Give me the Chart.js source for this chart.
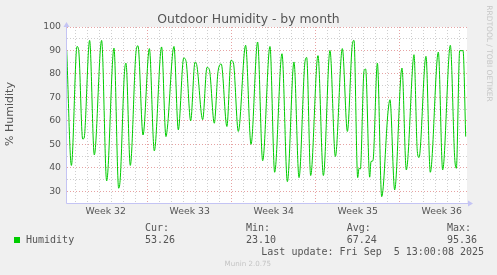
<!DOCTYPE html>
<html>
<head>
<meta charset="utf-8">
<script src="https://cdn.jsdelivr.net/npm/chart.js@4/dist/chart.umd.min.js"></script>
<style>
  html, body { margin: 0; padding: 0; background: #f0f0f0; }
  canvas { display: block; }
</style>
</head>
<body>
<canvas id="chart" width="497" height="275"></canvas>
<script>
  "use strict";

  // Days since Monday 00:00 of week 32
  const days = [
    0.25, 0.64, 1.11, 1.25, 1.58, 1.69, 2.16, 2.55, 3.16, 3.58,
    4.19, 4.58, 4.72, 5.05, 5.19, 5.55, 6.03, 6.19, 6.61, 7.14,
    7.55, 8.16, 8.52, 8.64, 9.19, 9.55, 10.0, 10.2, 10.58, 10.94,
    11.08, 11.58, 11.94, 12.14, 12.55, 12.86, 13.13, 13.6, 13.94, 14.14,
    14.55, 15.16, 15.61, 16.16, 16.58, 17.19, 17.58, 18.19, 18.64, 19.19,
    19.61, 20.11, 20.25, 20.58, 21.19, 21.64, 22.19, 22.64, 23.22, 23.64,
    24.05, 24.19, 24.5, 24.61, 24.72, 25.03, 25.16, 25.5, 25.61, 25.77,
    26.14, 26.5, 27.03, 27.19, 27.58, 28.19, 28.55, 29.11, 29.19, 29.47,
    29.61, 30.19, 30.55, 31.22, 31.58, 32.22, 32.58, 32.72, 33.0, 33.28,
    33.5
  ];
  const humidity = [
    90, 41, 91.7, 90, 52.3, 52.5, 94.3, 45.5, 94.3, 34.4,
    91, 31.3, 36, 79.7, 84.6, 41, 89.6, 92, 54, 90.8,
    47.2, 91.5, 53.3, 57, 91.7, 56.2, 86.8, 85.3, 60, 85,
    84, 60.5, 82.8, 81.8, 59, 81, 84.2, 57.6, 85.8, 84.8,
    55.5, 92.2, 50, 93.6, 43, 91.7, 38.1, 88.6, 34.1, 85.1,
    35.8, 85.3, 87, 36.7, 87.8, 36.7, 90, 44.8, 90.8, 55.5,
    92.5, 94.3, 35.8, 39.8, 39.5, 81.4, 82.1, 36, 42.7, 43,
    84.6, 27.7, 64, 69, 30.6, 82.5, 39.1, 85.3, 88.2, 46.9,
    44.4, 87.5, 38.1, 89.3, 39.1, 92.2, 44.4, 39.8, 89.9, 89.9,
    53.3
  ];

  const weekLabels = ["Week 32", "Week 33", "Week 34", "Week 35", "Week 36"];
  const weekMids = [3.5, 10.5, 17.5, 24.5, 31.5];
  const dayLines = [];
  for (let d = 1; d <= 33; d++) dayLines.push(d);
  const yLines = [25, 30, 35, 40, 45, 50, 55, 60, 65, 70, 75, 80, 85, 90, 95, 100];

  const statNames = ["Cur:", "Min:", "Avg:", "Max:"];
  const statValues = ["53.26", "23.10", "67.24", "95.36"];
  const statX = [145, 246, 346.7, 447];

  const GREEN = "#00cc00";
  const TXT = "#555555";
  const MGRID = "#e6a3a3";
  const GRID = "#cfcfcf";
  const AXIS = "#c4c4f4";

  const munin = {
    id: "munin",
    beforeDraw(chart) {
      const { ctx, chartArea: a } = chart;
      ctx.save();
      ctx.fillStyle = "#f0f0f0";
      ctx.fillRect(0, 0, chart.width, chart.height);
      ctx.fillStyle = "#ffffff";
      ctx.fillRect(a.left, a.top, a.right - a.left, a.bottom - a.top);
      ctx.restore();
    },
    afterDraw(chart) {
      const { ctx, chartArea: a } = chart;
      ctx.save();

      // axes with arrows
      ctx.strokeStyle = AXIS;
      ctx.fillStyle = AXIS;
      ctx.lineWidth = 1;
      ctx.beginPath();
      ctx.moveTo(a.left - 0.5, a.bottom + 0.5);
      ctx.lineTo(a.right + 2, a.bottom + 0.5);
      ctx.moveTo(a.left - 0.5, a.bottom + 0.5);
      ctx.lineTo(a.left - 0.5, a.top - 3);
      ctx.stroke();
      ctx.beginPath();
      ctx.moveTo(a.right + 1, a.bottom - 2.5);
      ctx.lineTo(a.right + 6, a.bottom + 0.5);
      ctx.lineTo(a.right + 1, a.bottom + 3.5);
      ctx.closePath();
      ctx.fill();
      ctx.beginPath();
      ctx.moveTo(a.left - 3.5, a.top);
      ctx.lineTo(a.left - 0.5, a.top - 5);
      ctx.lineTo(a.left + 2.5, a.top);
      ctx.closePath();
      ctx.fill();

      // title
      ctx.fillStyle = TXT;
      ctx.font = '12.4px "DejaVu Sans"';
      ctx.textAlign = "center";
      ctx.textBaseline = "alphabetic";
      ctx.fillText("Outdoor Humidity - by month", 248.5, 23);

      // vertical label
      ctx.save();
      ctx.translate(10.5, 114);
      ctx.rotate(-Math.PI / 2);
      ctx.font = '11px "DejaVu Sans"';
      ctx.textBaseline = "middle";
      ctx.fillText("% Humidity", 0, 0);
      ctx.restore();

      // rrdtool credit
      ctx.save();
      ctx.translate(488.5, 53.5);
      ctx.rotate(Math.PI / 2);
      ctx.fillStyle = "#c6c6c6";
      ctx.font = '7.5px "DejaVu Sans"';
      ctx.textBaseline = "middle";
      ctx.fillText("RRDTOOL / TOBI OETIKER", 0, 0);
      ctx.restore();

      // legend
      ctx.font = '10px "DejaVu Sans Mono"';
      ctx.textAlign = "left";
      ctx.textBaseline = "middle";
      ctx.fillStyle = GREEN;
      ctx.fillRect(14, 237, 6, 6);
      ctx.fillStyle = TXT;
      ctx.fillText("Humidity", 26, 240);
      statNames.forEach((n, i) => {
        ctx.fillText(n, statX[i], 228);
        ctx.fillText(statValues[i], statX[i], 240);
      });
      ctx.fillText("Last update: Fri Sep  5 13:00:08 2025", 261.3, 252);

      ctx.fillStyle = "#c4c4c4";
      ctx.font = '7.1px "DejaVu Sans"';
      ctx.textAlign = "center";
      ctx.fillText("Munin 2.0.75", 247.8, 264);
      ctx.restore();
    }
  };

  new Chart(document.getElementById("chart"), {
    type: "line",
    data: {
      datasets: [{
        data: days.map((d, i) => ({ x: d, y: humidity[i] })),
        borderColor: GREEN,
        borderWidth: 1,
        pointRadius: 0,
        fill: false,
        cubicInterpolationMode: "monotone"
      }]
    },
    options: {
      responsive: false,
      animation: false,
      events: [],
      layout: { padding: { left: 0, right: 30, top: 27, bottom: 0 } },
      plugins: { legend: { display: false }, title: { display: false }, tooltip: { enabled: false } },
      scales: {
        x: {
          type: "linear",
          min: 0.275,
          max: 0.275 + 400 / 12,
          afterFit: (s) => { s.height = 72; },
          afterBuildTicks: (s) => {
            s.ticks = dayLines.concat(weekMids).sort((p, q) => p - q).map(v => ({ value: v }));
          },
          border: { display: false, dash: [1, 2] },
          grid: {
            drawTicks: false,
            color: (c) => {
              const v = c.tick && c.tick.value;
              if (!Number.isInteger(v)) return "rgba(0,0,0,0)";
              return v % 7 === 0 ? MGRID : GRID;
            }
          },
          ticks: {
            autoSkip: false,
            maxRotation: 0,
            padding: 3,
            color: TXT,
            font: { family: "DejaVu Sans", size: 9.3 },
            callback: (v) => {
              const i = weekMids.indexOf(v);
              return i >= 0 ? weekLabels[i] : "";
            }
          }
        },
        y: {
          min: 25,
          max: 100,
          afterFit: (s) => { s.width = 67; },
          afterBuildTicks: (s) => {
            s.ticks = yLines.map(v => ({ value: v }));
          },
          border: { display: false, dash: [1, 2] },
          grid: {
            drawTicks: false,
            color: (c) => {
              const v = c.tick && c.tick.value;
              if (v === 25) return "rgba(0,0,0,0)";
              return v % 10 === 0 ? MGRID : GRID;
            }
          },
          ticks: {
            autoSkip: false,
            padding: 6,
            color: TXT,
            font: { family: "DejaVu Sans", size: 9.3 },
            callback: (v) => (v % 10 === 0 ? v : "")
          }
        }
      }
    },
    plugins: [munin]
  });
</script>
</body>
</html>
